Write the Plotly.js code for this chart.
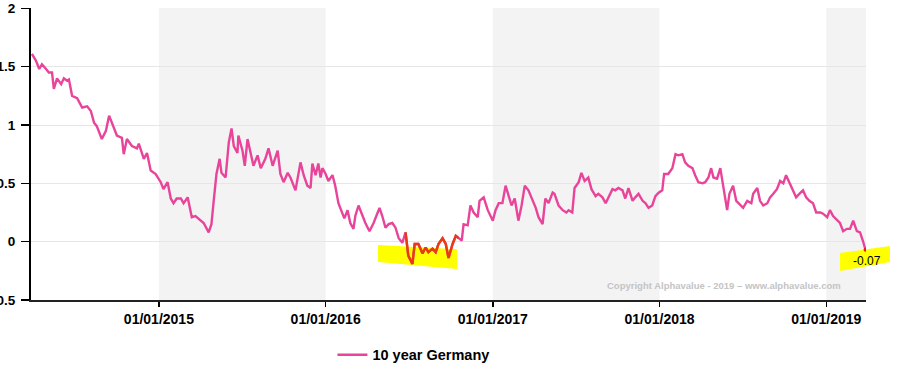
<!DOCTYPE html>
<html>
<head>
<meta charset="utf-8">
<script src="https://cdn.plot.ly/plotly-3.0.1.min.js"></script>
<style>
  html, body { margin: 0; padding: 0; background: #fff; }
  #chart { width: 902px; height: 379px; }
</style>
</head>
<body>
<div id="chart"></div>
<script>
// ---- Data ----
var seriesName = "10 year Germany";
var dates = [
  "2014-03-29","2014-04-07","2014-04-14","2014-04-20","2014-04-29","2014-05-05","2014-05-12","2014-05-16","2014-05-23","2014-06-01",
  "2014-06-07","2014-06-14","2014-06-18","2014-06-25","2014-07-06","2014-07-17","2014-07-28","2014-08-05","2014-08-12","2014-08-18",
  "2014-08-29","2014-09-07","2014-09-14","2014-09-20","2014-10-01","2014-10-12","2014-10-16","2014-10-23","2014-11-03","2014-11-14",
  "2014-11-18","2014-11-29","2014-12-06","2014-12-14","2014-12-25",
  "2015-01-05","2015-01-11","2015-01-20","2015-01-27","2015-02-02","2015-02-09","2015-02-18","2015-02-24","2015-03-05","2015-03-14",
  "2015-03-22","2015-04-02","2015-04-09","2015-04-20","2015-04-26","2015-05-01","2015-05-07","2015-05-14","2015-05-18","2015-05-27",
  "2015-06-03","2015-06-09","2015-06-14","2015-06-22","2015-06-24","2015-07-03","2015-07-08","2015-07-14","2015-07-21","2015-07-27",
  "2015-08-05","2015-08-12","2015-08-22","2015-08-29","2015-09-07","2015-09-18","2015-09-24","2015-10-01","2015-10-10","2015-10-16",
  "2015-10-27","2015-11-07","2015-11-14","2015-11-22","2015-11-29","2015-12-03","2015-12-10","2015-12-16","2015-12-21","2015-12-25",
  "2016-01-01","2016-01-07","2016-01-16","2016-01-22","2016-01-29","2016-02-07","2016-02-11","2016-02-18","2016-02-24","2016-03-02",
  "2016-03-06","2016-03-13","2016-03-22","2016-03-28","2016-04-06","2016-04-15","2016-04-24","2016-04-28","2016-05-04","2016-05-11",
  "2016-05-18","2016-05-26","2016-06-02","2016-06-09","2016-06-17","2016-06-24","2016-06-30","2016-07-09","2016-07-14","2016-07-22",
  "2016-07-31","2016-08-07","2016-08-13","2016-08-22","2016-08-29","2016-09-04","2016-09-13","2016-09-20","2016-09-26","2016-10-05",
  "2016-10-12","2016-10-18","2016-10-25","2016-10-29","2016-11-07","2016-11-13","2016-11-20","2016-11-29","2016-12-03","2016-12-12",
  "2016-12-21",
  "2017-01-01","2017-01-07","2017-01-14","2017-01-22","2017-01-29","2017-02-05","2017-02-11","2017-02-18","2017-02-26","2017-03-05",
  "2017-03-12","2017-03-20","2017-03-27","2017-04-05","2017-04-11","2017-04-20","2017-04-26","2017-05-03","2017-05-12","2017-05-16",
  "2017-05-25","2017-06-03","2017-06-11","2017-06-16","2017-06-24","2017-06-29","2017-07-08","2017-07-14","2017-07-21","2017-07-29",
  "2017-08-05","2017-08-14","2017-08-20","2017-08-29","2017-09-05","2017-09-11","2017-09-20","2017-09-26","2017-10-03","2017-10-12",
  "2017-10-18","2017-10-25","2017-11-03","2017-11-09","2017-11-16","2017-11-25","2017-12-01","2017-12-08","2017-12-16","2017-12-23",
  "2017-12-30",
  "2018-01-07","2018-01-11","2018-01-20","2018-01-29","2018-02-05","2018-02-11","2018-02-20","2018-02-26","2018-03-05","2018-03-14",
  "2018-03-20","2018-03-27","2018-04-05","2018-04-11","2018-04-18","2018-04-24","2018-04-29","2018-05-07","2018-05-14","2018-05-20",
  "2018-05-29","2018-06-03","2018-06-11","2018-06-18","2018-06-27","2018-07-03","2018-07-12","2018-07-21","2018-07-25","2018-08-03",
  "2018-08-09","2018-08-16","2018-08-25","2018-08-31","2018-09-07","2018-09-15","2018-09-22","2018-09-29","2018-10-05","2018-10-12",
  "2018-10-20","2018-10-27","2018-11-03","2018-11-11","2018-11-18","2018-11-25","2018-12-03","2018-12-10","2018-12-19","2018-12-25",
  "2019-01-03","2019-01-09","2019-01-16","2019-01-25","2019-01-31","2019-02-07","2019-02-15","2019-02-22","2019-03-01","2019-03-09",
  "2019-03-16","2019-03-22","2019-03-28"
];
var yields = [
  1.61,1.55,1.48,1.52,1.48,1.45,1.45,1.31,1.40,1.35,
  1.40,1.38,1.39,1.25,1.23,1.15,1.16,1.12,1.02,0.99,
  0.88,0.95,1.08,1.02,0.91,0.89,0.75,0.88,0.82,0.80,
  0.84,0.71,0.76,0.61,0.58,
  0.51,0.45,0.51,0.37,0.33,0.37,0.37,0.33,0.38,0.21,
  0.22,0.18,0.16,0.08,0.15,0.35,0.58,0.71,0.59,0.55,
  0.85,0.97,0.82,0.76,0.91,0.78,0.65,0.88,0.74,0.65,
  0.74,0.63,0.71,0.80,0.65,0.78,0.58,0.51,0.59,0.55,
  0.44,0.68,0.57,0.48,0.46,0.67,0.57,0.67,0.55,0.63,
  0.58,0.52,0.57,0.48,0.33,0.25,0.20,0.27,0.16,0.11,
  0.22,0.31,0.22,0.16,0.09,0.16,0.25,0.29,0.22,0.12,
  0.15,0.16,0.12,0.03,-0.01,0.08,-0.12,-0.19,-0.02,-0.02,
  -0.10,-0.05,-0.09,-0.06,-0.09,-0.02,0.03,-0.02,-0.14,-0.02,
  0.05,0.03,0.01,0.15,0.14,0.31,0.25,0.21,0.35,0.38,
  0.27,
  0.18,0.27,0.33,0.33,0.48,0.38,0.31,0.37,0.18,0.31,
  0.48,0.44,0.37,0.29,0.21,0.15,0.37,0.33,0.42,0.41,
  0.31,0.27,0.25,0.27,0.25,0.46,0.51,0.59,0.52,0.55,
  0.45,0.39,0.41,0.38,0.33,0.38,0.45,0.44,0.46,0.44,
  0.37,0.46,0.35,0.38,0.41,0.35,0.33,0.29,0.31,0.39,
  0.42,
  0.44,0.58,0.58,0.63,0.75,0.74,0.75,0.68,0.65,0.63,
  0.57,0.51,0.50,0.51,0.55,0.63,0.55,0.54,0.63,0.50,
  0.27,0.41,0.48,0.35,0.31,0.29,0.35,0.33,0.41,0.46,
  0.35,0.31,0.33,0.38,0.41,0.45,0.52,0.50,0.57,0.51,
  0.45,0.38,0.41,0.44,0.38,0.35,0.33,0.25,0.25,0.24,
  0.21,0.27,0.22,0.18,0.16,0.09,0.11,0.11,0.18,0.09,
  0.08,0.01,-0.07
];
var tickDates = ["2015-01-01","2016-01-01","2017-01-01","2018-01-01","2019-01-01"];
var tickLabels = ["01/01/2015","01/01/2016","01/01/2017","01/01/2018","01/01/2019"];
var yTicks = [-0.5, 0, 0.5, 1, 1.5, 2];
var yTickLabels = ["-0.5","0","0.5","1","1.5","2"];
var shadedYears = [["2015-01-01","2016-01-01"],["2017-01-01","2018-01-01"],["2019-01-01","2019-03-29"]];
var highlightStart = "2016-06-20", highlightEnd = "2016-10-20";
var copyrightText = "Copyright Alphavalue - 2019 \u2013 www.alphavalue.com";

// ---- Build chart ----
var FONT = "Arial, 'Liberation Sans', sans-serif";
var lineColor = "#e8449a";

var hlX = [], hlY = [];
for (var i = 0; i < dates.length; i++) {
  if (dates[i] >= highlightStart && dates[i] <= highlightEnd) { hlX.push(dates[i]); hlY.push(yields[i]); }
}
var lastIdx = dates.length - 1;

var traces = [
  { x: dates, y: yields, type: "scatter", mode: "lines", name: seriesName,
    line: { color: lineColor, width: 2.4 }, hoverinfo: "x+y" },
  { x: hlX, y: hlY, type: "scatter", mode: "lines", showlegend: false,
    line: { color: "#e83c10", width: 2.4 }, hoverinfo: "skip" },
  { x: [dates[lastIdx]], y: [yields[lastIdx]], type: "scatter", mode: "markers", showlegend: false,
    marker: { color: "#e02020", size: 4 }, hoverinfo: "skip" }
];

var shapes = [];
shadedYears.forEach(function (r) {
  shapes.push({ type: "rect", xref: "x", yref: "paper", x0: r[0], x1: r[1], y0: 0, y1: 1,
    fillcolor: "#f3f3f3", line: { width: 0 }, layer: "below" });
});
// yellow highlighter marks (paper coordinates, decorative)
shapes.push({ type: "path", xref: "paper", yref: "paper", layer: "below",
  path: "M 0.4156 0.1884 L 0.5102 0.1740 L 0.5102 0.1062 L 0.4156 0.1301 Z",
  fillcolor: "#ffff00", line: { width: 0 } });
shapes.push({ type: "path", xref: "paper", yref: "paper", layer: "below",
  path: "M 0.9689 0.1610 L 1.0287 0.1850 L 1.0287 0.1300 L 0.9689 0.0993 Z",
  fillcolor: "#ffff00", line: { width: 0 } });

var layout = {
  width: 902, height: 379,
  margin: { l: 31, r: 36, t: 8, b: 79 },
  paper_bgcolor: "#ffffff", plot_bgcolor: "rgba(0,0,0,0)",
  font: { family: FONT, color: "#000" },
  showlegend: true,
  legend: { orientation: "h", x: 0.361, xanchor: "left", y: -0.188, yanchor: "middle",
    font: { family: FONT, size: 14.5, weight: "bold", color: "#000" }, bgcolor: "rgba(0,0,0,0)" },
  xaxis: {
    type: "date", range: ["2014-03-27", "2019-03-29"],
    tickmode: "array", tickvals: tickDates, ticktext: tickLabels,
    ticks: "outside", ticklen: 5, tickwidth: 1.5, tickcolor: "#000",
    showline: true, linecolor: "#222", linewidth: 2,
    showgrid: false, zeroline: false,
    tickfont: { family: FONT, size: 14, weight: "bold", color: "#000" }
  },
  yaxis: {
    range: [-0.5, 2.003], tickmode: "array", tickvals: yTicks, ticktext: yTickLabels,
    ticks: "outside", ticklen: 8, tickwidth: 1.5, tickcolor: "#000",
    showline: true, linecolor: "#000", linewidth: 2,
    showgrid: true, gridcolor: "#e6e6e6", gridwidth: 1, zeroline: false,
    ticklabelstandoff: 3,
    tickfont: { family: FONT, size: 13.5, weight: "bold", color: "#000" }
  },
  shapes: shapes,
  annotations: [
    { xref: "x", yref: "y", x: dates[lastIdx], y: yields[lastIdx], text: yields[lastIdx].toFixed(2),
      showarrow: false, xanchor: "center", yanchor: "middle", xshift: 1, yshift: -11,
      font: { family: FONT, size: 12, color: "#000" } },
    { xref: "paper", yref: "paper", x: 0.9725, y: 0.051, xanchor: "right", yanchor: "middle",
      text: copyrightText, showarrow: false,
      font: { family: FONT, size: 9.5, weight: "bold", color: "#c4c4c4" } }
  ]
};

Plotly.newPlot("chart", traces, layout, { displayModeBar: false, staticPlot: true });
</script>
</body>
</html>
